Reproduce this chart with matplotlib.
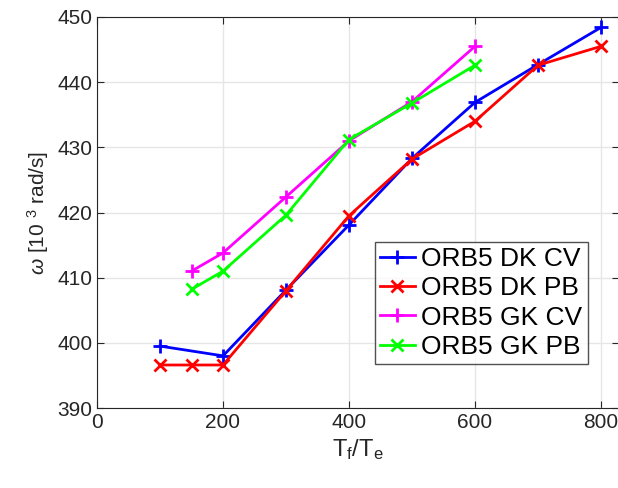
import matplotlib.pyplot as plt

plt.rcParams['font.family'] = ['Liberation Sans', 'DejaVu Sans']
plt.rcParams['mathtext.fontset'] = 'custom'
plt.rcParams['mathtext.rm'] = 'Liberation Sans'
plt.rcParams['mathtext.it'] = 'Liberation Sans:italic'

# temperature ratio T_f/T_e
x_dk = [100, 150, 200, 300, 400, 500, 600, 700, 800]
x_dk_cv = [100, 200, 300, 400, 500, 600, 700, 800]
x_gk = [150, 200, 300, 400, 500, 600]

# frequency omega [10^3 rad/s]
dk_cv = [399.5, 398.0, 408.1, 418.1, 428.3, 436.9, 442.7, 448.4]
dk_pb = [396.6, 396.6, 396.6, 408.0, 419.5, 428.2, 434.0, 442.6, 445.5]
gk_cv = [411.0, 413.8, 422.4, 431.0, 437.0, 445.5]
gk_pb = [408.2, 411.0, 419.6, 431.2, 436.8, 442.6]

XMAX = 828
fig = plt.figure(figsize=(6.18, 4.88), dpi=100)
# right spine sits just past the figure edge
ax = fig.add_axes([97 / 618, 80 / 488, XMAX * 0.63 / 618, 391 / 488])

plus = dict(linewidth=2, markersize=10, markeredgewidth=2)
cross = dict(linewidth=2, markersize=8, markeredgewidth=2)
ax.plot(x_dk_cv, dk_cv, '-+', color='#0000ff', label='ORB5 DK CV', **plus)
ax.plot(x_dk, dk_pb, '-x', color='#ff0000', label='ORB5 DK PB', **cross)
ax.plot(x_gk, gk_cv, '-+', color='#ff00ff', label='ORB5 GK CV', **plus)
ax.plot(x_gk, gk_pb, '-x', color='#00ff00', label='ORB5 GK PB', **cross)

ax.set_xlim(0, XMAX)
ax.set_ylim(390, 450)
ax.set_xticks([0, 200, 400, 600, 800])
ax.set_yticks(range(390, 451, 10))
ax.grid(True, color='#e6e6e6', linewidth=1)
ax.set_axisbelow(True)
ax.tick_params(direction='in', top=True, right=True, labelsize=15,
               colors='#262626', length=5)
for s in ax.spines.values():
    s.set_color('#262626')

ax.set_xlabel(r'$\mathregular{T_f/T_e}$', fontsize=17, color='#262626')
ax.set_ylabel(r'$\omega$ [10 $^{3}$ rad/s]', fontsize=15, color='#262626')

leg = ax.legend(loc='lower left', bbox_to_anchor=(278 / (XMAX * 0.63), 0.112),
                fontsize=19, handlelength=1.3, handletextpad=0.25,
                borderpad=0.2, labelspacing=0.2, borderaxespad=0,
                fancybox=False)
leg.get_frame().set_edgecolor('#262626')
leg.get_frame().set_linewidth(1)

fig.savefig('out.png', dpi=100)
